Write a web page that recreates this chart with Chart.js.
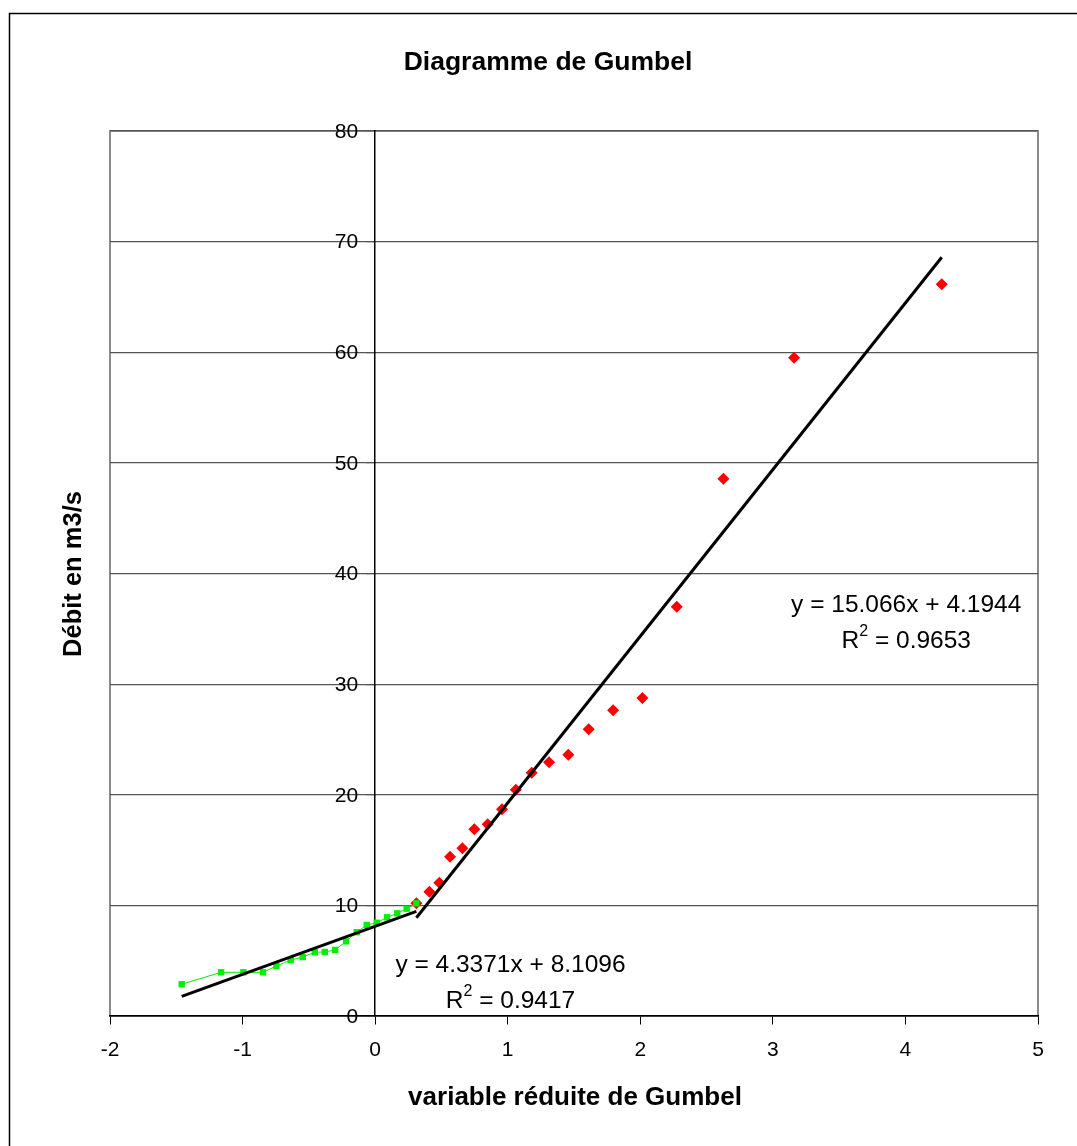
<!DOCTYPE html>
<html>
<head>
<meta charset="utf-8">
<title>Diagramme de Gumbel</title>
<script src="https://cdn.jsdelivr.net/npm/chart.js@4.4.1/dist/chart.umd.min.js"></script>
<style>
  html, body { margin: 0; padding: 0; background: #fff; }
</style>
</head>
<body>
<canvas id="gumbel" width="1077" height="1146"></canvas>
<script>
// variable reduite de Gumbel (u) / debit en m3/s
const uLow = [-1.459, -1.162, -0.994, -0.846, -0.745, -0.637, -0.546, -0.455, -0.380,
              -0.302, -0.219, -0.139, -0.063, 0.012, 0.090, 0.167, 0.238, 0.311];
const qLow = [2.87, 3.95, 3.95, 3.95, 4.52, 5.06, 5.33, 5.76, 5.79,
              5.97, 6.75, 7.57, 8.23, 8.43, 8.92, 9.28, 9.70, 10.19];

const uHigh = [0.311, 0.409, 0.484, 0.565, 0.658, 0.748, 0.849, 0.957, 1.061, 1.181,
               1.312, 1.457, 1.611, 1.795, 2.016, 2.275, 2.627, 3.160, 4.274];
const qHigh = [10.19, 11.24, 12.05, 14.40, 15.16, 16.88, 17.33, 18.68, 20.46, 21.99,
               22.93, 23.62, 25.92, 27.63, 28.75, 37.00, 48.57, 59.51, 66.14];

// trend lines printed on the chart
const fitLow = [4.3371, 8.1096];    // slope, intercept
const fitHigh = [15.066, 4.1944];
const r2Low = '0.9417';
const r2High = '0.9653';

const xTicks = [-2, 5, 1];   // min, max, step
const yTicks = [0, 80, 10];

const FONT = "'Liberation Sans', Arial, sans-serif";

function toPoints(xs, ys) {
    return xs.map((x, i) => ({ x: x, y: ys[i] }));
}

function trend(xs, fit) {
    const a = xs[0], b = xs[xs.length - 1];
    return [{ x: a, y: fit[0] * a + fit[1] }, { x: b, y: fit[0] * b + fit[1] }];
}

function eqText(fit) {
    return 'y = ' + fit[0] + 'x + ' + fit[1];
}

// white page, outer frame and plot frame
const framePlugin = {
    id: 'frame',
    beforeDraw(chart) {
        const ctx = chart.ctx;
        const a = chart.chartArea;
        ctx.save();
        ctx.fillStyle = '#fff';
        ctx.fillRect(0, 0, chart.width, chart.height);
        ctx.strokeStyle = '#000';
        ctx.lineWidth = 1.5;
        ctx.beginPath();
        ctx.moveTo(9.5, chart.height);
        ctx.lineTo(9.5, 13.5);
        ctx.lineTo(chart.width, 13.5);
        ctx.stroke();
        ctx.strokeStyle = '#8c8c8c';
        ctx.lineWidth = 2;
        ctx.strokeRect(a.left, a.top, a.right - a.left, a.bottom - a.top);
        ctx.restore();
    }
};

// titles, y tick labels (left of the axis line) and equation labels
const textPlugin = {
    id: 'texts',
    afterDraw(chart) {
        const ctx = chart.ctx;
        const a = chart.chartArea;
        const sx = chart.scales.x, sy = chart.scales.y;
        ctx.save();
        ctx.fillStyle = '#000';

        // y tick labels
        ctx.font = '21px ' + FONT;
        ctx.textAlign = 'right';
        ctx.textBaseline = 'middle';
        const axisX = sx.getPixelForValue(0);
        sy.ticks.forEach(t => {
            ctx.fillText(String(t.value), axisX - 17, sy.getPixelForValue(t.value) + 1);
        });

        ctx.textAlign = 'center';
        ctx.textBaseline = 'alphabetic';
        ctx.font = 'bold 26.5px ' + FONT;
        ctx.fillText('Diagramme de Gumbel', 548, 70);
        ctx.font = 'bold 26px ' + FONT;
        ctx.fillText('variable réduite de Gumbel', 575, 1105);
        ctx.font = 'bold 25.5px ' + FONT;
        ctx.save();
        ctx.translate(81, 574);
        ctx.rotate(-Math.PI / 2);
        ctx.fillText('Débit en m3/s', 0, 0);
        ctx.restore();

        function equation(fit, r2, ux, qy) {
            const px = sx.getPixelForValue(ux);
            const py = sy.getPixelForValue(qy);
            ctx.font = '24.5px ' + FONT;
            ctx.textAlign = 'center';
            ctx.fillText(eqText(fit), px, py);
            // R² with superscript
            const rest = ' = ' + r2;
            const wR = ctx.measureText('R').width;
            const wRest = ctx.measureText(rest).width;
            ctx.font = '16px ' + FONT;
            const w2 = ctx.measureText('2').width;
            const left = px - (wR + w2 + wRest) / 2;
            ctx.textAlign = 'left';
            ctx.fillText('2', left + wR, py + 36 - 12);
            ctx.font = '24.5px ' + FONT;
            ctx.fillText('R', left, py + 36);
            ctx.fillText(rest, left + wR + w2, py + 36);
        }
        equation(fitHigh, r2High, 4.006, 36.49);
        equation(fitLow, r2Low, 1.021, 3.95);
        ctx.restore();
    }
};

const gumbelChart = new Chart(document.getElementById('gumbel').getContext('2d'), {
    type: 'scatter',
    data: {
        datasets: [
            {
                label: 'trend high',
                data: trend(uHigh, fitHigh),
                showLine: true,
                borderColor: '#000',
                borderWidth: 3,
                pointRadius: 0,
                order: 0
            },
            {
                label: 'trend low',
                data: trend(uLow, fitLow),
                showLine: true,
                borderColor: '#000',
                borderWidth: 3,
                pointRadius: 0,
                order: 0
            },
            {
                label: 'high',
                data: toPoints(uHigh, qHigh),
                pointStyle: 'rectRot',
                pointRadius: 6,
                backgroundColor: '#ff0000',
                borderColor: '#ff0000',
                borderWidth: 0,
                showLine: false,
                order: 2
            },
            {
                label: 'low',
                data: toPoints(uLow, qLow),
                pointStyle: 'rect',
                pointRadius: 4.5,
                backgroundColor: '#00ee00',
                pointBorderWidth: 0,
                borderColor: '#00ee00',
                borderWidth: 1,
                showLine: true,
                order: 1
            }
        ]
    },
    plugins: [framePlugin, textPlugin],
    options: {
        responsive: false,
        animation: false,
        events: [],
        layout: {
            padding: { left: 110, top: 131, right: 39, bottom: 130 }
        },
        plugins: {
            legend: { display: false },
            title: { display: false },
            tooltip: { enabled: false }
        },
        scales: {
            x: {
                type: 'linear',
                position: { y: 0 },
                min: xTicks[0],
                max: xTicks[1],
                ticks: {
                    stepSize: xTicks[2],
                    color: '#000',
                    padding: 14,
                    font: { family: FONT, size: 21 }
                },
                grid: {
                    drawOnChartArea: false,
                    drawTicks: true,
                    tickLength: 8,
                    color: '#000'
                },
                border: { display: true, color: '#000', width: 1.5 }
            },
            y: {
                type: 'linear',
                position: { x: 0 },
                min: yTicks[0],
                max: yTicks[1],
                ticks: {
                    stepSize: yTicks[2],
                    display: false
                },
                grid: {
                    drawOnChartArea: true,
                    drawTicks: true,
                    tickLength: 8,
                    color: '#555',
                    lineWidth: 1.2
                },
                border: { display: true, color: '#000', width: 1.5 }
            }
        }
    }
});
</script>
</body>
</html>
